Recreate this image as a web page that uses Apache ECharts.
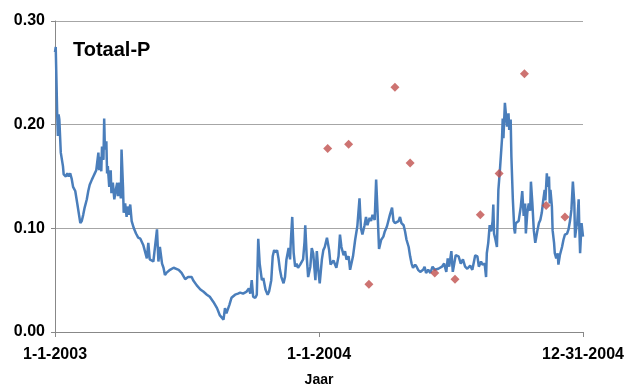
<!DOCTYPE html>
<html>
<head>
<meta charset="utf-8">
<script src="https://cdn.jsdelivr.net/npm/echarts@6/dist/echarts.min.js"></script>
<style>
  html, body { margin: 0; padding: 0; background: #fff; }
  #chart { width: 625px; height: 387px; }
</style>
</head>
<body>
<div id="chart"></div>
<script>
// dagnummer sinds 1-1-2003 (0 = 1-1-2003, 365 = 1-1-2004, 730 = 12-31-2004)
const dayNr = [
  0, 1, 2, 3, 4, 5, 6, 7, 8, 11, 12, 15, 17, 19, 21, 23, 25, 28, 29, 31,
  33, 35, 37, 39, 41, 44, 46, 48, 51, 53, 55, 57, 60, 61, 62, 64, 65, 67, 68, 69,
  71, 72, 73, 75, 77, 78, 80, 82, 84, 86, 87, 89, 91, 92, 94, 95, 97, 99, 100, 102,
  104, 106, 109, 112, 115, 118, 122, 127, 129, 131, 136, 141, 143, 145, 148, 150, 152, 154, 159, 164,
  171, 175, 180, 184, 189, 191, 196, 201, 205, 210, 214, 219, 224, 228, 233, 235, 237, 241, 244, 249,
  253, 256, 260, 265, 268, 270, 272, 274, 277, 279, 281, 283, 286, 288, 291, 294, 296, 299, 301, 303,
  305, 307, 309, 311, 313, 316, 318, 320, 323, 325, 326, 328, 330, 332, 334, 336, 339, 341, 343, 345,
  346, 348, 350, 353, 355, 357, 360, 362, 364, 366, 369, 371, 373, 376, 379, 381, 385, 389, 392, 394,
  396, 399, 401, 403, 406, 408, 412, 415, 418, 421, 423, 425, 428, 430, 432, 435, 437, 439, 442, 444,
  446, 448, 451, 454, 456, 459, 461, 463, 466, 468, 470, 472, 475, 477, 479, 482, 484, 486, 489, 491,
  493, 495, 498, 500, 502, 505, 507, 509, 511, 513, 516, 519, 522, 525, 530, 535, 538, 541, 543, 545,
  548, 550, 552, 554, 558, 561, 564, 567, 570, 574, 577, 581, 584, 586, 589, 591, 594, 596, 597, 599,
  601, 603, 605, 606, 607, 609, 611, 613, 615, 618, 619, 620, 622, 624, 625, 627, 628, 630, 631, 633,
  635, 636, 637, 641, 643, 644, 646, 648, 650, 651, 653, 655, 657, 658, 660, 662, 664, 665, 667, 669,
  671, 673, 675, 677, 678, 680, 681, 683, 684, 685, 687, 688, 690, 691, 693, 695, 696, 698, 701, 703,
  705, 708, 710, 712, 714, 716, 718, 719, 721, 722, 724, 725, 726, 728, 730
];

// Totaal-P (mg/l), dagwaarden
const totaalP = [
  0.270, 0.275, 0.243, 0.211, 0.189, 0.210, 0.205, 0.189, 0.173, 0.160, 0.152, 0.150, 0.153, 0.150, 0.153, 0.148, 0.140, 0.136, 0.137, 0.123,
  0.124, 0.105, 0.107, 0.113, 0.120, 0.128, 0.136, 0.142, 0.147, 0.150, 0.153, 0.156, 0.173, 0.156, 0.169, 0.155, 0.179, 0.166, 0.206, 0.176,
  0.184, 0.153, 0.160, 0.140, 0.156, 0.134, 0.144, 0.128, 0.137, 0.144, 0.131, 0.144, 0.129, 0.176, 0.140, 0.115, 0.124, 0.111, 0.121, 0.113,
  0.123, 0.107, 0.100, 0.095, 0.091, 0.090, 0.084, 0.071, 0.086, 0.070, 0.068, 0.099, 0.068, 0.082, 0.066, 0.062, 0.055, 0.057, 0.060, 0.062,
  0.060, 0.057, 0.051, 0.053, 0.053, 0.050, 0.045, 0.041, 0.039, 0.036, 0.034, 0.029, 0.023, 0.016, 0.012, 0.023, 0.018, 0.026, 0.033, 0.036,
  0.037, 0.038, 0.037, 0.039, 0.042, 0.037, 0.050, 0.034, 0.033, 0.036, 0.090, 0.066, 0.050, 0.052, 0.041, 0.036, 0.039, 0.050, 0.073, 0.079,
  0.077, 0.079, 0.071, 0.060, 0.053, 0.047, 0.053, 0.070, 0.081, 0.070, 0.087, 0.111, 0.076, 0.063, 0.066, 0.062, 0.065, 0.065, 0.070, 0.087,
  0.103, 0.073, 0.053, 0.063, 0.081, 0.076, 0.050, 0.078, 0.060, 0.047, 0.070, 0.079, 0.082, 0.091, 0.079, 0.065, 0.069, 0.062, 0.073, 0.094,
  0.082, 0.074, 0.078, 0.070, 0.073, 0.060, 0.073, 0.089, 0.102, 0.129, 0.100, 0.094, 0.103, 0.111, 0.103, 0.110, 0.107, 0.113, 0.108, 0.147,
  0.115, 0.080, 0.089, 0.092, 0.097, 0.102, 0.103, 0.113, 0.120, 0.107, 0.105, 0.105, 0.107, 0.111, 0.105, 0.103, 0.097, 0.089, 0.082, 0.073,
  0.066, 0.062, 0.065, 0.063, 0.060, 0.058, 0.058, 0.060, 0.063, 0.057, 0.060, 0.057, 0.063, 0.060, 0.061, 0.063, 0.066, 0.058, 0.071, 0.063,
  0.078, 0.058, 0.066, 0.074, 0.073, 0.066, 0.070, 0.063, 0.061, 0.064, 0.060, 0.074, 0.073, 0.063, 0.068, 0.065, 0.066, 0.053, 0.076, 0.086,
  0.103, 0.097, 0.107, 0.123, 0.095, 0.089, 0.082, 0.137, 0.155, 0.186, 0.206, 0.187, 0.221, 0.221, 0.198, 0.211, 0.195, 0.205, 0.169, 0.128,
  0.099, 0.095, 0.105, 0.107, 0.108, 0.121, 0.136, 0.112, 0.124, 0.095, 0.115, 0.124, 0.117, 0.145, 0.124, 0.098, 0.086, 0.090, 0.098, 0.105,
  0.108, 0.115, 0.127, 0.137, 0.127, 0.153, 0.140, 0.150, 0.124, 0.137, 0.121, 0.098, 0.086, 0.076, 0.071, 0.076, 0.065, 0.074, 0.082, 0.089,
  0.094, 0.095, 0.099, 0.107, 0.118, 0.145, 0.124, 0.091, 0.102, 0.105, 0.128, 0.098, 0.076, 0.105, 0.092
];

// losse metingen (rode ruiten)
const meetDag = [377, 406, 434, 470, 491, 525, 553, 588, 614, 649, 679, 705];
const meetWaarde = [0.177, 0.181, 0.046, 0.236, 0.163, 0.057, 0.051, 0.113, 0.153, 0.249, 0.122, 0.111];

const xTickLabels = { 0: '1-1-2003', 365: '1-1-2004', 730: '12-31-2004' };

const chart = echarts.init(document.getElementById('chart'), null, { renderer: 'canvas' });

const lineData = dayNr.map((d, i) => [d, totaalP[i]]);
const pointData = meetDag.map((d, i) => [d, meetWaarde[i]]);

const labelFont = {
  fontFamily: 'Liberation Sans, Arial, sans-serif',
  fontSize: 16,
  fontWeight: 'bold',
  color: '#000'
};

const option = {
  animation: false,
  backgroundColor: '#fff',
  grid: { left: 55, right: 42, top: 21, bottom: 55, containLabel: false, outerBoundsMode: 'none' },
  xAxis: {
    type: 'value',
    min: 0,
    max: 730,
    interval: 365,
    name: 'Jaar',
    nameLocation: 'middle',
    nameGap: 41,
    nameTextStyle: {
      fontFamily: 'Liberation Sans, Arial, sans-serif',
      fontSize: 14,
      fontWeight: 'bold',
      color: '#000'
    },
    axisLine: { show: true, lineStyle: { color: '#888', width: 1 } },
    axisTick: { show: true, inside: false, length: 5, lineStyle: { color: '#888' } },
    splitLine: { show: false },
    axisLabel: {
      ...labelFont,
      margin: 15,
      showMinLabel: true,
      showMaxLabel: true,
      formatter: (v) => xTickLabels[v] || ''
    }
  },
  yAxis: {
    type: 'value',
    min: 0,
    max: 0.3,
    interval: 0.1,
    axisLine: { show: true, lineStyle: { color: '#888', width: 1 } },
    axisTick: { show: true, length: 4, lineStyle: { color: '#888' } },
    splitLine: { show: true, lineStyle: { color: '#a6a6a6', width: 1 } },
    axisLabel: {
      ...labelFont,
      margin: 10,
      formatter: (v) => v.toFixed(2)
    }
  },
  graphic: [
    {
      type: 'text',
      left: 73,
      top: 40,
      style: {
        text: 'Totaal-P',
        font: 'bold 20px "Liberation Sans", Arial, sans-serif',
        fill: '#000'
      }
    }
  ],
  series: [
    {
      name: 'Totaal-P',
      type: 'line',
      data: lineData,
      showSymbol: false,
      symbol: 'none',
      lineStyle: { color: '#4a7ebb', width: 2.5 },
      z: 2
    },
    {
      name: 'Metingen',
      type: 'scatter',
      data: pointData,
      symbol: 'diamond',
      symbolSize: 9,
      itemStyle: { color: '#c0504d' },
      z: 3
    }
  ]
};

chart.setOption(option);
</script>
</body>
</html>
